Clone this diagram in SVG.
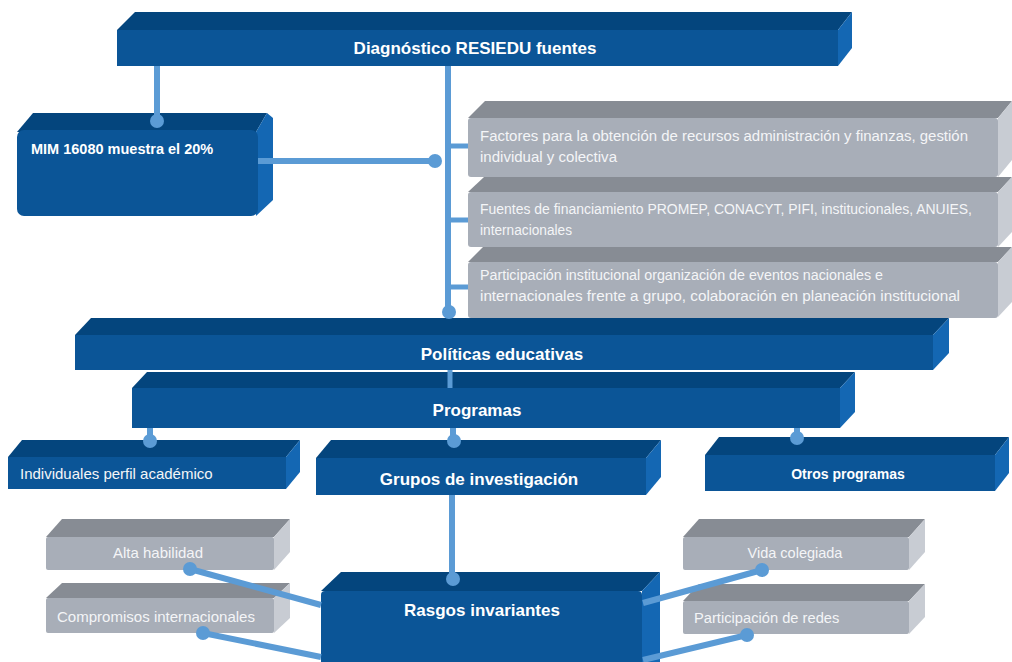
<svg xmlns="http://www.w3.org/2000/svg" width="1012" height="662" viewBox="0 0 1012 662">
<style>
.bf{fill:#0b5597}.bt{fill:#04457d}.br{fill:#1467b3}
.gf{fill:#a8aeb8}.gt{fill:#878c94}.gr{fill:#c8ccd3}
.tb{font-family:"Liberation Sans",Arial,sans-serif;font-weight:bold;fill:#ffffff}
.tn{font-family:"Liberation Sans",Arial,sans-serif;fill:#f4f5f7}
.c{stroke:#5b9bd5;stroke-width:6;fill:none}
.t{stroke:#5b9bd5;stroke-width:5;fill:none}
.d{fill:#5b9bd5}
</style>
<rect width="1012" height="662" fill="#ffffff"/>

<g id="diagnostico">
<polygon class="bt" points="117,30 135,12 852,12 838,30"/>
<polygon class="br" points="838,30 852,12 852,48 838,66"/>
<rect class="bf" x="117" y="30" width="721" height="36"/>
<text class="tb" x="475" y="54" font-size="17" text-anchor="middle">Diagnóstico RESIEDU fuentes</text>
</g>

<g id="mim">
<polygon class="bt" points="17,132 33,113 267,113 256,132"/>
<polygon class="br" points="256,132 267,113 273,118 273,200 256,216"/>
<rect class="bf" x="17" y="130" width="241" height="86" rx="7"/>
<text class="tb" x="31" y="154" font-size="14.5">MIM 16080 muestra el 20%</text>
</g>

<g id="factores">
<polygon class="gt" points="468,118 485,101 1012,101 998,118"/>
<polygon class="gr" points="998,118 1012,101 1012,160 998,177"/>
<rect class="gf" x="468" y="118" width="530" height="59" rx="3"/>
<text class="tn" font-size="14"><tspan x="480" y="141" textLength="488" lengthAdjust="spacingAndGlyphs">Factores para la obtención de recursos  administración y finanzas, gestión</tspan><tspan x="480" y="162" textLength="137" lengthAdjust="spacingAndGlyphs">individual y colectiva</tspan></text>
</g>

<g id="fuentes">
<polygon class="gt" points="468,192 484,177 1012,177 998,192"/>
<polygon class="gr" points="998,192 1012,177 1012,232 998,247"/>
<rect class="gf" x="468" y="192" width="530" height="55" rx="3"/>
<text class="tn" font-size="14"><tspan x="480" y="214" textLength="492" lengthAdjust="spacingAndGlyphs">Fuentes de financiamiento  PROMEP, CONACYT, PIFI, institucionales, ANUIES,</tspan><tspan x="480" y="235" textLength="92" lengthAdjust="spacingAndGlyphs">internacionales</tspan></text>
</g>

<g id="participacion-inst">
<polygon class="gt" points="468,262 483,247 1012,247 998,262"/>
<polygon class="gr" points="998,262 1012,247 1012,302 998,317"/>
<rect class="gf" x="468" y="262" width="530" height="56" rx="3"/>
<text class="tn" font-size="14"><tspan x="480" y="280" textLength="403" lengthAdjust="spacingAndGlyphs">Participación institucional organización de eventos nacionales e</tspan><tspan x="480" y="301" textLength="480" lengthAdjust="spacingAndGlyphs">internacionales  frente a grupo, colaboración en planeación institucional</tspan></text>
</g>

<g id="politicas">
<polygon class="bt" points="75,335 91,318 949,318 933,335"/>
<polygon class="br" points="933,335 949,318 949,353 933,370"/>
<rect class="bf" x="75" y="335" width="858" height="35"/>
<text class="tb" x="502" y="360" font-size="17" text-anchor="middle">Políticas educativas</text>
</g>

<g id="programas">
<polygon class="bt" points="132,388 147,372 855,372 840,388"/>
<polygon class="br" points="840,388 855,372 855,412 840,428"/>
<rect class="bf" x="132" y="388" width="708" height="40"/>
<text class="tb" x="477" y="416" font-size="17" text-anchor="middle">Programas</text>
</g>

<g id="individuales">
<polygon class="bt" points="8,457 22,440 300,440 286,457"/>
<polygon class="br" points="286,457 300,440 300,472 286,489"/>
<rect class="bf" x="8" y="457" width="278" height="32"/>
<text class="tn" x="20" y="479" font-size="15" fill="#ffffff">Individuales perfil académico</text>
</g>

<g id="grupos">
<polygon class="bt" points="316,458 331,440 661,440 646,458"/>
<polygon class="br" points="646,458 661,440 661,477 646,495"/>
<rect class="bf" x="316" y="458" width="330" height="37"/>
<text class="tb" x="479" y="485" font-size="17" text-anchor="middle">Grupos de investigación</text>
</g>

<g id="otros">
<polygon class="bt" points="705,455 719,437 1009,437 995,455"/>
<polygon class="br" points="995,455 1009,437 1009,473 995,491"/>
<rect class="bf" x="705" y="455" width="290" height="36"/>
<text class="tb" x="848" y="479" font-size="14" text-anchor="middle">Otros programas</text>
</g>

<g id="alta">
<polygon class="gt" points="46,537 62,519 290,519 274,537"/>
<polygon class="gr" points="274,537 290,519 290,552 274,570"/>
<rect class="gf" x="46" y="537" width="228" height="33" rx="2"/>
<text class="tn" x="158" y="558" font-size="15" text-anchor="middle">Alta habilidad</text>
</g>

<g id="compromisos">
<polygon class="gt" points="46,598 62,583 290,583 274,598"/>
<polygon class="gr" points="274,598 290,583 290,618 274,633"/>
<rect class="gf" x="46" y="598" width="228" height="35" rx="2"/>
<text class="tn" x="156" y="622" font-size="15" text-anchor="middle" textLength="198" lengthAdjust="spacingAndGlyphs">Compromisos internacionales</text>
</g>

<g id="vida">
<polygon class="gt" points="683,537 699,519 925,519 909,537"/>
<polygon class="gr" points="909,537 925,519 925,552 909,570"/>
<rect class="gf" x="683" y="537" width="226" height="33" rx="2"/>
<text class="tn" x="795" y="558" font-size="14.5" text-anchor="middle">Vida colegiada</text>
</g>

<g id="redes">
<polygon class="gt" points="683,601 699,584 925,584 909,601"/>
<polygon class="gr" points="909,601 925,584 925,617 909,634"/>
<rect class="gf" x="683" y="601" width="226" height="33" rx="2"/>
<text class="tn" x="694" y="623" font-size="14.7">Participación de redes</text>
</g>

<g id="rasgos">
<polygon class="bt" points="321,591 341,572 660,572 642,591"/>
<polygon class="br" points="642,591 660,572 660,662 642,662"/>
<rect class="bf" x="321" y="591" width="321" height="80" rx="4"/>
<text class="tb" x="482" y="616" font-size="17" text-anchor="middle">Rasgos invariantes</text>
</g>

<g id="connectors">
<line class="c" x1="157" y1="66" x2="157" y2="120"/>
<circle class="d" cx="157" cy="121" r="7"/>
<line class="c" x1="448" y1="66" x2="448" y2="312"/>
<circle class="d" cx="449" cy="312" r="7"/>
<line class="c" x1="258" y1="161" x2="435" y2="161"/>
<circle class="d" cx="435" cy="161" r="7"/>
<line class="t" x1="448" y1="146" x2="468" y2="146"/>
<line class="t" x1="448" y1="220" x2="468" y2="220"/>
<line class="t" x1="448" y1="287" x2="468" y2="287"/>
<line class="t" x1="450" y1="370" x2="450" y2="388"/>
<line class="c" x1="150" y1="428" x2="150" y2="440"/>
<circle class="d" cx="150" cy="441" r="7"/>
<line class="c" x1="453" y1="428" x2="453" y2="440"/>
<circle class="d" cx="454" cy="441" r="7"/>
<line class="c" x1="797" y1="428" x2="797" y2="437"/>
<circle class="d" cx="797" cy="438" r="7"/>
<line class="c" x1="452" y1="495" x2="452" y2="578"/>
<circle class="d" cx="453" cy="579" r="7"/>
<line class="c" x1="321" y1="605" x2="190" y2="569"/>
<circle class="d" cx="190" cy="569" r="7"/>
<line class="c" x1="321" y1="657" x2="203" y2="633"/>
<circle class="d" cx="203" cy="633" r="7"/>
<line class="c" x1="643" y1="603" x2="762" y2="570"/>
<circle class="d" cx="762" cy="570" r="7"/>
<line class="c" x1="643" y1="660" x2="747" y2="635"/>
<circle class="d" cx="747" cy="635" r="7"/>
</g>
</svg>
